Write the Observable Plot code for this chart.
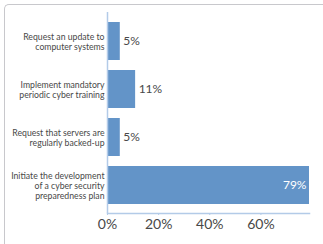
<!DOCTYPE html>
<html>
<head>
<meta charset="utf-8">
<script src="https://cdn.jsdelivr.net/npm/d3@7"></script>
<script src="https://cdn.jsdelivr.net/npm/@observablehq/plot@0.6"></script>
<style>
  html, body { margin: 0; padding: 0; background: #fff; }
  #wrap { position: relative; width: 323px; height: 244px; overflow: hidden; }
  #frame { position: absolute; left: 4px; top: 4px; width: 340px; height: 260px;
           border-top: 1.5px solid #c8c8cc; border-left: 1.5px solid #c8c8cc; border-radius: 5px; box-sizing: border-box; }
  #chart { position: absolute; left: 0; top: 0; }
</style>
</head>
<body>
<div id="wrap"><div id="frame"></div><div id="chart"></div></div>
<script>
const categories = [
  "Request an update to\ncomputer systems",
  "Implement mandatory\nperiodic cyber training",
  "Request that servers are\nregularly backed-up",
  "Initiate the development\nof a cyber security\npreparedness plan"
];
const values = [5, 11, 5, 79];
const xTicks = [0, 20, 40, 60];

const data = categories.map((c, i) => ({category: c, value: values[i]}));
const barColor = "#6394c8";
const axisColor = "#b3cbe8";
const textColor = "#484848";

const plot = Plot.plot({
  width: 323,
  height: 244,
  marginLeft: 107,
  marginRight: 14,
  marginTop: 12,
  marginBottom: 31,
  style: {fontFamily: "Lato, sans-serif", background: "transparent", color: textColor},
  x: {domain: [0, 79], ticks: xTicks},
  y: {domain: categories, paddingInner: 0.21, paddingOuter: 0.19},
  marks: [
    Plot.barX(data, {x: "value", y: "category", fill: barColor}),
    Plot.ruleX([0], {stroke: axisColor, strokeWidth: 1.5}),
    Plot.frame({anchor: "bottom", stroke: axisColor, strokeWidth: 1.5}),
    Plot.axisX({ticks: xTicks, tickFormat: d => d + "%", tickSize: 2, stroke: axisColor, tickPadding: 4, fontSize: 14, fill: textColor, label: null}),
    Plot.axisY({tickSize: 0, tickPadding: 3, fontSize: 8.7, lineHeight: 1.15, fill: textColor, label: null}),
    Plot.text(data.filter(d => d.value < 50), {x: "value", y: "category", text: d => d.value + "%", dx: 3, textAnchor: "start", fontSize: 12, fill: textColor}),
    Plot.text(data.filter(d => d.value >= 50), {x: "value", y: "category", text: d => d.value + "%", dx: -3, textAnchor: "end", fontSize: 12, fill: "#fff"})
  ]
});
document.getElementById("chart").appendChild(plot);
</script>
</body>
</html>
